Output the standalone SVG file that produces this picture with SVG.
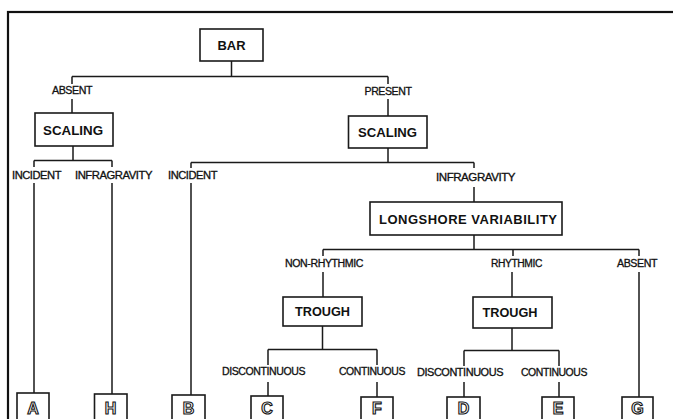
<svg xmlns="http://www.w3.org/2000/svg" width="673" height="419" viewBox="0 0 673 419">
<style>
.ln{fill:none;stroke:#1a1a1a;stroke-width:1.5}
.box{fill:#fff;stroke:#1a1a1a;stroke-width:1.6}
.lbl{font-family:"Liberation Sans",Arial,sans-serif;font-size:10px;fill:#111;stroke:#111;stroke-width:0.3;text-anchor:middle;letter-spacing:-0.4px}
.bt{font-family:"Liberation Sans",Arial,sans-serif;font-size:13px;font-weight:bold;fill:#111;text-anchor:middle}
.lt{font-family:"Liberation Sans",Arial,sans-serif;font-size:16px;font-weight:bold;fill:#fff;stroke:#111;stroke-width:1.1;text-anchor:middle;opacity:0.99}
</style>
<rect x="0" y="0" width="673" height="419" fill="#fff"/>
<rect x="8" y="12" width="700" height="450" fill="none" stroke="#111" stroke-width="2.2"/>
<g id="connectors" class="ln">
<path d="M231.5 61V76.5M72 76.5H388M72 76.5V84M388 76.5V84M72 99V113M388 99V116"/>
<path d="M73 146V160.5M34 160.5H112M34 160.5V167M112 160.5V167M34 183V393M112 183V394"/>
<path d="M388 148V162.5M191 162.5H474M191 162.5V168M474 162.5V168M191 183V395M474 187V202"/>
<path d="M474 235V249.5M323 249.5H639M323 249.5V256M513 249.5V256M639 249.5V256M323 272V297M512 272V297M639 272V397"/>
<path d="M322.5 326V349.5M268 349.5H377M268 349.5V365M377 349.5V365M268 382V396M377 382V397"/>
<path d="M512 328V350.5M464 350.5H559M464 350.5V366M559 350.5V366M464 382V397M559 382V397"/>
</g>
<g id="labels">
<text class="lbl" x="72" y="94" textLength="40" lengthAdjust="spacingAndGlyphs">ABSENT</text>
<text class="lbl" x="388" y="95" textLength="47" lengthAdjust="spacingAndGlyphs">PRESENT</text>
<text class="lbl" x="36.5" y="179" textLength="49" lengthAdjust="spacingAndGlyphs">INCIDENT</text>
<text class="lbl" x="113.5" y="179" textLength="77" lengthAdjust="spacingAndGlyphs">INFRAGRAVITY</text>
<text class="lbl" x="192.5" y="179" textLength="49" lengthAdjust="spacingAndGlyphs">INCIDENT</text>
<text class="lbl" x="475.5" y="181" textLength="79" lengthAdjust="spacingAndGlyphs">INFRAGRAVITY</text>
<text class="lbl" x="324" y="267" textLength="78" lengthAdjust="spacingAndGlyphs">NON-RHYTHMIC</text>
<text class="lbl" x="516.5" y="267" textLength="51" lengthAdjust="spacingAndGlyphs">RHYTHMIC</text>
<text class="lbl" x="637" y="267" textLength="40" lengthAdjust="spacingAndGlyphs">ABSENT</text>
<text class="lbl" x="263.5" y="375" textLength="83" lengthAdjust="spacingAndGlyphs">DISCONTINUOUS</text>
<text class="lbl" x="372" y="375" textLength="66" lengthAdjust="spacingAndGlyphs">CONTINUOUS</text>
<text class="lbl" x="460" y="376" textLength="86" lengthAdjust="spacingAndGlyphs">DISCONTINUOUS</text>
<text class="lbl" x="554" y="376" textLength="66" lengthAdjust="spacingAndGlyphs">CONTINUOUS</text>
</g>
<g id="bar"><rect class="box" x="200" y="29" width="63" height="32"/><text class="bt" x="231.5" y="49.5" textLength="28" lengthAdjust="spacingAndGlyphs">BAR</text></g>
<g id="scaling-absent"><rect class="box" x="35" y="113" width="78" height="33"/><text class="bt" x="73" y="135" textLength="60" lengthAdjust="spacingAndGlyphs">SCALING</text></g>
<g id="scaling-present"><rect class="box" x="348.5" y="116" width="78.5" height="32"/><text class="bt" x="387.5" y="137" textLength="59" lengthAdjust="spacingAndGlyphs">SCALING</text></g>
<g id="longshore"><rect class="box" x="370" y="202" width="192" height="33"/><text class="bt" x="468" y="223.5" font-size="14" textLength="178" lengthAdjust="spacing">LONGSHORE VARIABILITY</text></g>
<g id="trough-nonrhythmic"><rect class="box" x="283" y="297" width="79" height="29"/><text class="bt" x="322.5" y="315.5" textLength="55" lengthAdjust="spacingAndGlyphs">TROUGH</text></g>
<g id="trough-rhythmic"><rect class="box" x="473" y="297" width="79" height="31"/><text class="bt" x="510" y="316.5" textLength="55" lengthAdjust="spacingAndGlyphs">TROUGH</text></g>
<g id="node-A"><rect class="box" x="17" y="393" width="32" height="34"/><text class="lt" x="33" y="414">A</text></g>
<g id="node-H"><rect class="box" x="94.5" y="394" width="32.5" height="34"/><text class="lt" x="110.5" y="414">H</text></g>
<g id="node-B"><rect class="box" x="172" y="395" width="33" height="34"/><text class="lt" x="188.5" y="414">B</text></g>
<g id="node-C"><rect class="box" x="251" y="396" width="32" height="34"/><text class="lt" x="267" y="414">C</text></g>
<g id="node-F"><rect class="box" x="361" y="397" width="32" height="34"/><text class="lt" x="377" y="414">F</text></g>
<g id="node-D"><rect class="box" x="447" y="397" width="33" height="34"/><text class="lt" x="463.5" y="414">D</text></g>
<g id="node-E"><rect class="box" x="542" y="397" width="32" height="34"/><text class="lt" x="558" y="414">E</text></g>
<g id="node-G"><rect class="box" x="622" y="397" width="31" height="34"/><text class="lt" x="637.5" y="414">G</text></g>
</svg>
